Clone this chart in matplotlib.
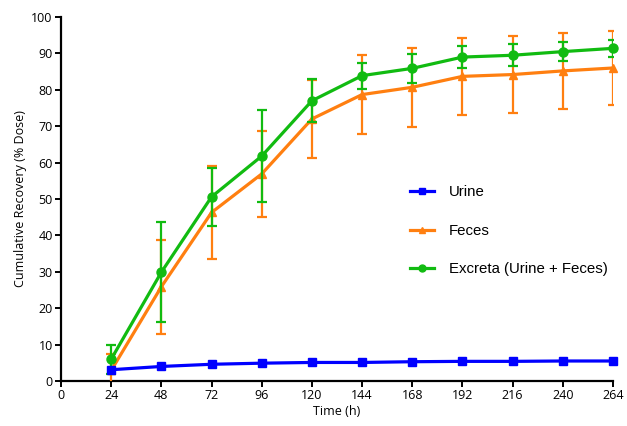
import matplotlib
matplotlib.use("Agg")
import matplotlib.pyplot as plt
from matplotlib.lines import Line2D

time_h = [24, 48, 72, 96, 120, 144, 168, 192, 216, 240, 264]
urine_mean = [3.1, 4.0, 4.6, 4.9, 5.1, 5.1, 5.3, 5.4, 5.4, 5.5, 5.5]
feces_mean = [2.9, 25.9, 46.3, 56.9, 72.0, 78.7, 80.7, 83.7, 84.2, 85.2, 86.0]
feces_sd = [4.6, 12.9, 12.9, 11.8, 10.8, 10.8, 10.8, 10.6, 10.6, 10.5, 10.3]
excreta_mean = [6.0, 29.9, 50.6, 61.8, 77.0, 83.9, 85.9, 89.0, 89.5, 90.5, 91.4]
excreta_sd = [4.0, 13.7, 7.9, 12.7, 5.9, 3.6, 3.9, 3.0, 3.0, 2.6, 2.3]

x_ticks = list(range(0, 265, 24))
y_ticks = list(range(0, 101, 10))
labels = ['Urine', 'Feces', 'Excreta (Urine + Feces)']

plt.rcParams['font.family'] = ['Open Sans', 'DejaVu Sans']

fig = plt.figure(figsize=(6.27, 4.26), dpi=100)
ax = fig.add_axes([0.0973, 0.1056, 0.8804, 0.8544])

blue = '#0000FF'
orange = '#FF7F10'
green = '#11BB11'

lw = 2.3
cap = 3.6

def draw(mean, sd, color, marker, ms, z):
    if sd is not None:
        ax.errorbar(time_h, mean, yerr=sd, fmt='none', ecolor=color, capsize=cap,
                    capthick=1.6, elinewidth=1.6, zorder=z)
    ax.plot(time_h, mean, color=color, marker=marker, markersize=ms, lw=lw,
            zorder=z + 0.5, clip_on=False)

draw(feces_mean, feces_sd, orange, '^', 6, 3)
draw(excreta_mean, excreta_sd, green, 'o', 6.5, 4)
draw(urine_mean, None, blue, 's', 6, 5)

ax.set_xlim(0, 264)
ax.set_ylim(0, 100)
ax.set_xticks(x_ticks)
ax.set_yticks(y_ticks)
ax.spines['top'].set_visible(False)
ax.spines['right'].set_visible(False)
for s in ['left', 'bottom']:
    ax.spines[s].set_linewidth(1.6)
ax.tick_params(direction='out', length=4, width=1.4, labelsize=9, pad=2)
ax.set_xlabel('Time (h)', fontsize=9, labelpad=2)
ax.set_ylabel('Cumulative Recovery (% Dose)', fontsize=9, labelpad=3)

handles = [Line2D([], [], color=blue, marker='s', markersize=5, lw=2.3),
           Line2D([], [], color=orange, marker='^', markersize=5, lw=2.3),
           Line2D([], [], color=green, marker='o', markersize=5, lw=2.3)]
ax.legend(handles, labels, loc='upper left', bbox_to_anchor=(0.607, 0.575), frameon=False,
          labelspacing=1.64, handlelength=1.6, handletextpad=1.0,
          prop={'family': ['Liberation Sans'], 'size': 10.8})

fig.savefig('out.png', dpi=100)
